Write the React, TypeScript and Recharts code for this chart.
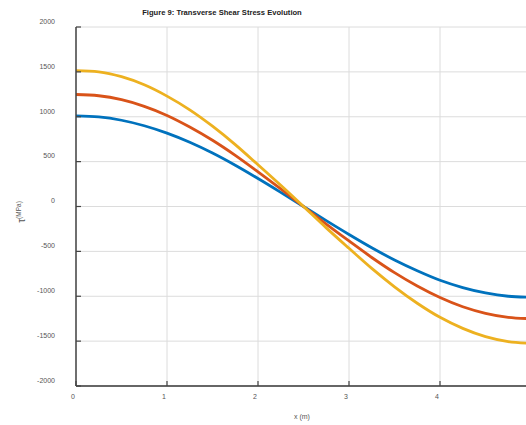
import React from 'react';
import { LineChart, Line, XAxis, YAxis, CartesianGrid, Customized } from 'recharts';

const xPositions = [0, 0.25, 0.5, 0.75, 1, 1.25, 1.5, 1.75, 2, 2.25, 2.5, 2.75, 3, 3.25, 3.5, 3.75, 4, 4.25, 4.5, 4.75, 5];
const tauBlue = [1010, 998, 961, 900, 818, 716, 596, 460, 312, 158, 0, -158, -312, -460, -596, -716, -822, -903, -963, -1000, -1012];
const tauRed = [1248, 1234, 1190, 1116, 1015, 886, 738, 570, 386, 196, 0, -196, -384, -568, -737, -886, -1014, -1117, -1190, -1235, -1250];
const tauYellow = [1514, 1500, 1446, 1356, 1230, 1077, 895, 690, 465, 236, 0, -238, -466, -690, -895, -1078, -1235, -1358, -1450, -1505, -1524];

const xTicks = [0, 1, 2, 3, 4];
const yTicks = [-2000, -1500, -1000, -500, 0, 500, 1000, 1500, 2000];
const chartTitle = 'Figure 9: Transverse Shear Stress Evolution';
const xLabel = 'x (m)';
const yLabelMain = 'τ';
const yLabelUnit = '(MPa)';

const data = xPositions.map((x, i) => ({ x, a: tauBlue[i], b: tauRed[i], c: tauYellow[i] }));

const FONT = '"Liberation Sans", Arial, Helvetica, sans-serif';
const TEXT_GREY = '#555';

const YTick = (props: any) => {
  const { x, y, payload } = props;
  return (
    <g>
      <line x1={x} x2={x + 5} y1={y} y2={y} stroke="#444" strokeWidth={1.2} />
      <text x={x - 21} y={y - 5} textAnchor="end" dominantBaseline="middle" fontSize={7} fill={TEXT_GREY} fontFamily={FONT}>
        {payload.value}
      </text>
    </g>
  );
};

const XTick = (props: any) => {
  const { x, y, payload } = props;
  return (
    <g>
      <line x1={x} x2={x} y1={y} y2={y - 5} stroke="#444" strokeWidth={1.2} />
      <text x={x - 3} y={y + 11.5} textAnchor="middle" dominantBaseline="middle" fontSize={7} fill={TEXT_GREY} fontFamily={FONT}>
        {payload.value}
      </text>
    </g>
  );
};

const Decorations = () => (
  <g fontFamily={FONT}>
    <text x={222} y={12.5} textAnchor="middle" dominantBaseline="middle" fontSize={7.6} fontWeight="bold" fill="#222">
      {chartTitle}
    </text>
    <text x={302} y={417} textAnchor="middle" dominantBaseline="middle" fontSize={7} fill={TEXT_GREY}>
      {xLabel}
    </text>
    <text transform="rotate(-90, 22, 212)" x={22} y={212} textAnchor="middle" dominantBaseline="middle" fill={TEXT_GREY}>
      <tspan fontSize={10}>{yLabelMain}</tspan>
      <tspan fontSize={6.5} dy={-3.5}>{yLabelUnit}</tspan>
    </text>
  </g>
);

export default function App() {
  return (
    <div style={{ position: 'fixed', left: 0, top: 0, width: 526, height: 425, overflow: 'hidden', background: '#fff' }}>
      <LineChart width={540} height={425} data={data} margin={{ top: 27, right: 9, bottom: 0, left: 0 }}>
        <CartesianGrid stroke="#dcdcdc" strokeWidth={1} />
        <XAxis
          dataKey="x"
          type="number"
          domain={[0, 5]}
          ticks={xTicks}
          height={39}
          tickSize={0}
          tickMargin={0}
          tickLine={false}
          axisLine={{ stroke: '#666', strokeWidth: 2 }}
          tick={<XTick />}
          interval={0}
          allowDataOverflow
        />
        <YAxis
          type="number"
          domain={[-2000, 2000]}
          ticks={yTicks}
          width={76}
          tickSize={0}
          tickMargin={0}
          tickLine={false}
          axisLine={{ stroke: '#444', strokeWidth: 1.5 }}
          tick={<YTick />}
          interval={0}
          allowDataOverflow
        />
        <Line type="monotone" dataKey="a" stroke="#0072BD" strokeWidth={2.8} dot={false} isAnimationActive={false} />
        <Line type="monotone" dataKey="b" stroke="#D95319" strokeWidth={2.8} dot={false} isAnimationActive={false} />
        <Line type="monotone" dataKey="c" stroke="#EDB120" strokeWidth={2.8} dot={false} isAnimationActive={false} />
        <Customized component={Decorations} />
      </LineChart>
    </div>
  );
}
